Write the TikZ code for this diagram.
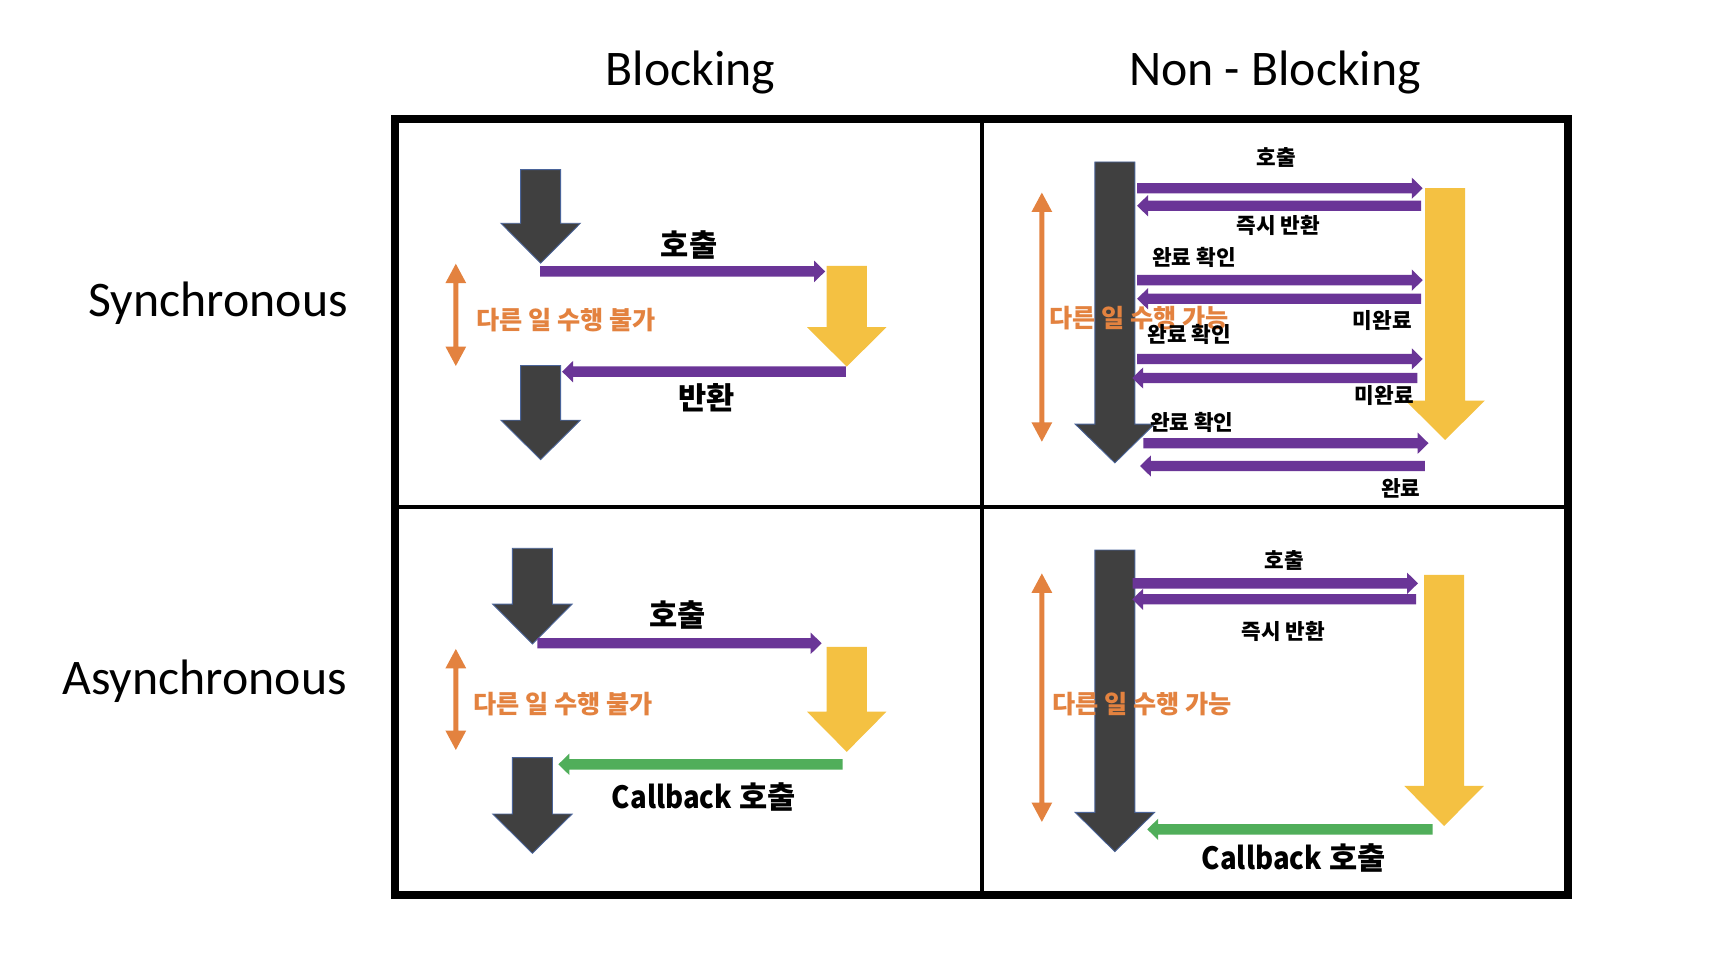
\documentclass[tikz,border=0pt]{standalone}
\usepackage{fontspec}
\setmainfont{Carlito}
\newfontfamily\kr{Noto Sans CJK KR}
\definecolor{darkg}{HTML}{404040}
\definecolor{darkedge}{HTML}{4A6499}
\definecolor{gold}{HTML}{F4C142}
\definecolor{purp}{HTML}{6A3597}
\definecolor{oran}{HTML}{E3823F}
\definecolor{grn}{HTML}{50AE5A}
% big block arrow pointing down: #1 style, #2 cx, #3 top, #4 head base, #5 tip
\newcommand\blkdown[5]{\path[#1] (#2-18.3,#3) -- (#2+18.3,#3) -- (#2+18.3,#4) -- (#2+36.3,#4) -- (#2,#5) -- (#2-36.3,#4) -- (#2-18.3,#4) -- cycle;}
% thin block arrow to the right: #1 colour, #2 tail x, #3 tip x, #4 y
\newcommand\rarr[4]{\fill[#1] (#2,#4-4.75) -- (#3-10,#4-4.75) -- (#3-10,#4-9.75) -- (#3,#4) -- (#3-10,#4+9.75) -- (#3-10,#4+4.75) -- (#2,#4+4.75) -- cycle;}
% thin block arrow to the left: #1 colour, #2 tail x, #3 tip x, #4 y
\newcommand\larr[4]{\fill[#1] (#2,#4-4.75) -- (#3+10,#4-4.75) -- (#3+10,#4-9.75) -- (#3,#4) -- (#3+10,#4+9.75) -- (#3+10,#4+4.75) -- (#2,#4+4.75) -- cycle;}
% orange double arrow: #1 x, #2 top, #3 bottom
\newcommand\oarr[3]{\fill[oran] (#1,#2) -- (#1+9.5,#2+17.7) -- (#1+2.3,#2+17.7) -- (#1+2.3,#3-17.7) -- (#1+9.5,#3-17.7) -- (#1,#3) -- (#1-9.5,#3-17.7) -- (#1-2.3,#3-17.7) -- (#1-2.3,#2+17.7) -- (#1-9.5,#2+17.7) -- cycle;}
\newcommand\cbtext{\scalebox{0.9}[1]{Callback}~호출}
\begin{document}
\begin{tikzpicture}[x=1pt,y=-1pt,
  darkarrow/.style={fill=darkg,draw=darkedge,line width=0.8pt},
  goldarrow/.style={fill=gold},
  title/.style={font=\fontsize{45.5}{50}\selectfont,inner sep=0pt,anchor=base},
  rowtitle/.style={font=\fontsize{45.5}{50}\selectfont,inner sep=0pt,anchor=base east},
  biglbl/.style={font=\kr\bfseries\fontsize{28}{32}\selectfont,inner sep=0pt},
  smlbl/.style={font=\kr\bfseries\fontsize{19.5}{22}\selectfont,inner sep=0pt},
  olbl/.style={font=\kr\bfseries\fontsize{23}{26}\selectfont,text=oran,inner sep=0pt,anchor=west}]
\useasboundingbox (0,0) rectangle (1568,877);
\fill[white] (0,0) rectangle (1568,877);
% titles
\node[title] (tb) at (631,77.7) {Blocking};
\node[title] (tnb) at (1165,77.7) {Non - Blocking};
\node[rowtitle] (ts) at (318,289.4) {Synchronous};
\node[rowtitle] (ta) at (317,635) {Asynchronous};
% grid
\draw[line width=3.5pt] (897.5,109) -- (897.5,817.5);
\draw[line width=3.5pt] (361,463) -- (1433,463);
\draw[line width=7pt] (361,109) rectangle (1433,817.5);
% ---------- top-left: sync blocking
\blkdown{darkarrow}{494}{155}{204}{240.5}
\blkdown{darkarrow}{494}{334}{384}{420}
\blkdown{goldarrow}{773.7}{243}{299}{335}
\rarr{purp}{493.5}{754}{248}
\larr{purp}{773}{513.6}{339.6}
\oarr{416.5}{241}{334.4}
\node[biglbl] (tl1) at (629.6,224) {호출};
\node[biglbl] (tl2) at (645.5,363) {반환};
\node[olbl] (tl3) at (435,292.4) {다른 일 수행 불가};
% ---------- top-right: sync non-blocking
\blkdown{darkarrow}{1018.7}{148}{387.5}{423}
\blkdown{goldarrow}{1320.5}{172}{366}{402}
\oarr{952}{176}{403.6}
\rarr{purp}{1039}{1300}{172}
\larr{purp}{1298.6}{1039}{188}
\rarr{purp}{1039}{1300}{256}
\larr{purp}{1298.6}{1039}{273}
\rarr{purp}{1039}{1300}{328}
\larr{purp}{1295}{1034.6}{345.4}
\rarr{purp}{1044.8}{1305.3}{405}
\larr{purp}{1302}{1041.7}{425.8}
\node[olbl] (tr0) at (958.5,290.7) {다른 일 수행 가능};
\node[smlbl] (tr1) at (1166.5,144) {호출};
\node[smlbl] (tr2) at (1168,205.6) {즉시 반환};
\node[smlbl] (tr3) at (1091,235.5) {완료 확인};
\node[smlbl] (tr4) at (1263,293) {미완료};
\node[smlbl] (tr5) at (1086.6,305.2) {완료 확인};
\node[smlbl] (tr6) at (1265,361.8) {미완료};
\node[smlbl] (tr7) at (1089,385.7) {완료 확인};
\node[smlbl] (tr8) at (1280,446) {완료};
% ---------- bottom-left: async blocking
\blkdown{darkarrow}{486.5}{501}{552}{588.5}
\blkdown{darkarrow}{486.5}{692.3}{743.8}{779.7}
\blkdown{goldarrow}{773.7}{591}{650.3}{687}
\rarr{purp}{491}{750.8}{587.8}
\larr{grn}{770}{510.2}{698.4}
\oarr{416.5}{593}{685.3}
\node[biglbl] (bl1) at (619.3,562) {호출};
\node[olbl] (bl2) at (432.6,643.3) {다른 일 수행 불가};
\node[biglbl] (bl3) at (643,728) {\cbtext};
% ---------- bottom-right: async non-blocking
\blkdown{darkarrow}{1018.7}{502.6}{742.3}{778.2}
\blkdown{goldarrow}{1319.5}{525.4}{718.2}{754.8}
\oarr{952}{524}{751}
\rarr{purp}{1035}{1295.7}{533}
\larr{purp}{1294}{1034.6}{547.6}
\larr{grn}{1309}{1048.3}{757.8}
\node[olbl] (br0) at (961.3,643.3) {다른 일 수행 가능};
\node[smlbl] (br1) at (1173.3,511.7) {호출};
\node[smlbl] (br2) at (1172.5,577.2) {즉시 반환};
\node[biglbl] (br3) at (1182,784.3) {\cbtext};
\end{tikzpicture}
\end{document}
